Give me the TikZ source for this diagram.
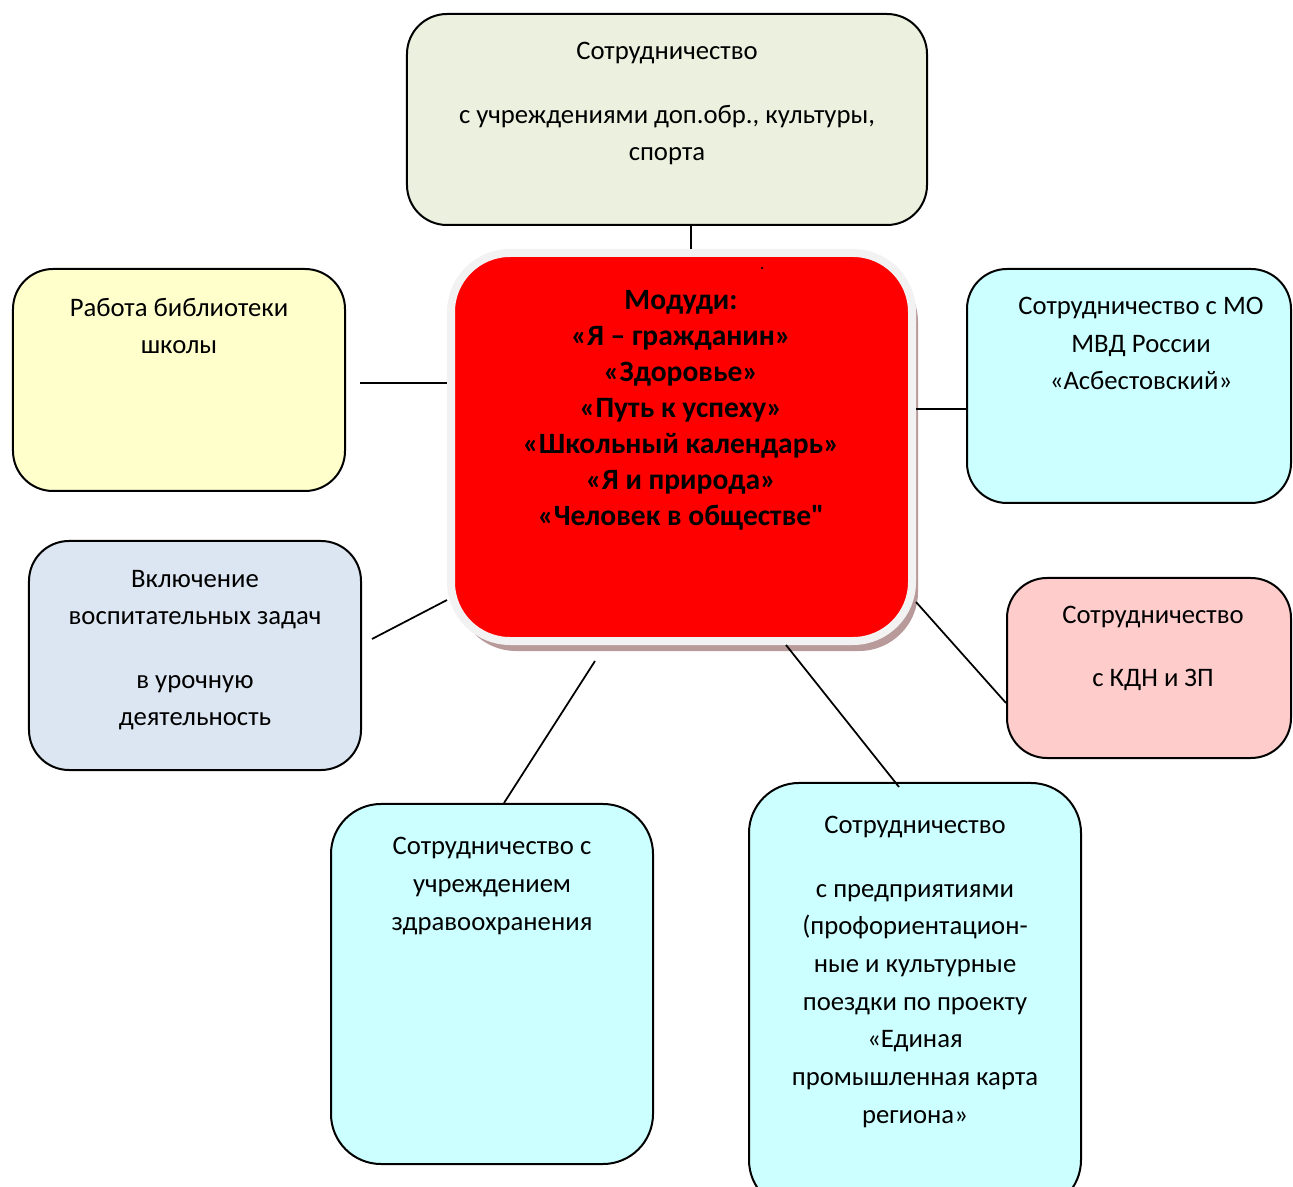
\documentclass[tikz,border=0pt]{standalone}
\usepackage{fontspec}
\setmainfont{Carlito}
\usepackage{xcolor}
\usetikzlibrary{shadows}

\definecolor{cultgreen}{HTML}{EBF1DE}
\definecolor{libyellow}{HTML}{FFFFCC}
\definecolor{cyanbox}{HTML}{CCFFFF}
\definecolor{lavblue}{HTML}{DCE6F2}
\definecolor{pinkbox}{HTML}{FFCCCC}
\definecolor{ringgrey}{HTML}{F2F2F2}
\definecolor{modshadow}{HTML}{B89A9A}

\tikzset{
    box/.style={draw=black, line width=0.4mm, rounded corners=8mm},
    txt/.style={anchor=base, align=center, font=\fontsize{15.2}{21.4}\selectfont},
    link/.style={draw=black, line width=0.35mm},
}

\begin{document}
\begin{tikzpicture}[x=0.2mm, y=-0.2mm]
                        \useasboundingbox (0,0) rectangle (1293,1187);

                        % central box
                        \node [fill=red, draw=ringgrey, line width=1.6mm, rounded corners=11.8mm,
                               minimum width=92.2mm, minimum height=77.6mm,
                               drop shadow={shadow xshift=1.2mm, shadow yshift=-2mm, fill=modshadow, opacity=1}] (mod) at (681.5,447) {};
                        % text nodes sit on the baseline of their last line
                        \node [txt, font=\fontsize{16.8}{20.5}\selectfont\bfseries] (modT) at (681,526)
                            {Модуди:\\«Я – гражданин»\\«Здоровье»\\«Путь к успеху»\\«Школьный календарь»\\«Я и природа»\\«Человек в обществе\textquotedbl};
                        \node [circle, fill=black, inner sep=0pt, minimum size=0.5mm] (dot) at (762,268) {};

                        % outer boxes
                        \node [box, fill=cultgreen, minimum width=104mm, minimum height=42.2mm] (cult) at (667,119.5) {};
                        \node [box, fill=libyellow, minimum width=66.4mm, minimum height=44.4mm] (lib) at (179,380) {};
                        \node [box, fill=cyanbox, minimum width=64.8mm, minimum height=46.8mm] (mvd) at (1129,386) {};
                        \node [box, fill=lavblue, minimum width=66.4mm, minimum height=45.8mm] (lav) at (195,655.5) {};
                        \node [box, fill=pinkbox, minimum width=56.8mm, minimum height=36mm] (kdn) at (1149,668) {};
                        \node [box, fill=cyanbox, rounded corners=10mm, minimum width=64.4mm, minimum height=72mm] (zdrav) at (492,984) {};
                        \node [box, fill=cyanbox, rounded corners=10mm, minimum width=66.4mm, minimum height=85.4mm] (pred) at (915,996.5) {};

                        \node [txt] (cultT) at (667,161) {Сотрудничество\\[5.2mm]с учреждениями доп.обр., культуры,\\спорта};
                        \node [txt] (libT) at (179,354) {Работа библиотеки\\школы};
                        \node [txt] (mvdT) at (1141,390) {Сотрудничество с МО\\МВД России\\«Асбестовский»};
                        \node [txt] (lavT) at (195,726) {Включение\\воспитательных задач\\[5.2mm]в урочную\\деятельность};
                        \node [txt] (kdnT) at (1153,687) {Сотрудничество\\[5.2mm]с КДН и ЗП};
                        \node [txt] (zdravT) at (492,930) {Сотрудничество с\\учреждением\\здравоохранения};
                        \node [txt] (predT) at (915,1123) {Сотрудничество\\[5.2mm]с предприятиями\\(профориентацион-\\ные и культурные\\поездки по проекту\\«Единая\\промышленная карта\\региона»};

                        % connectors
                        \draw [link] ([xshift=4.8mm]cult.south) -- ([xshift=1.9mm]mod.north);
                        \draw [link, shorten <=2.8mm] ([yshift=-0.6mm]lib.east) -- ([yshift=-0.6mm]lib.east -| mod.west);
                        \draw [link] ([yshift=-4.6mm]mvd.west) -- ([yshift=-4.6mm]mvd.west -| mod.east);
                        \draw [link] ([shift={(2mm,3.3mm)}]lav.east) -- ([yshift=-30.6mm]mod.west);
                        \draw [link] ([yshift=-31mm]mod.east) -- ([yshift=-7mm]kdn.west);
                        \draw [link] ([shift={(-17.3mm,-3.2mm)}]mod.south) -- ([xshift=2.4mm]zdrav.north);
                        \draw [link] ([xshift=20.9mm]mod.south) -- ([shift={(-3.2mm,-1mm)}]pred.north);
\end{tikzpicture}
\end{document}
